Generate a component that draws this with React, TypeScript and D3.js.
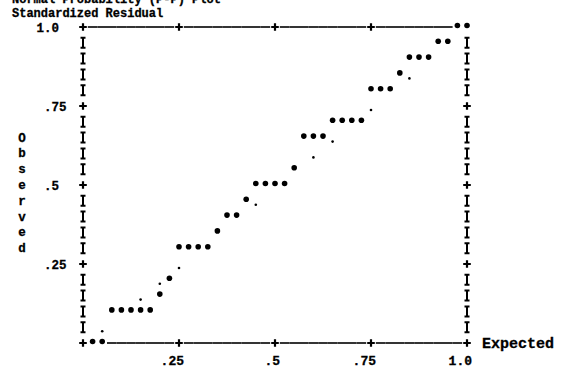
import React, { useEffect, useRef } from 'react';
import * as d3 from 'd3';

// expected cumulative probability (one case per print column)
const expected = [
  0.025, 0.05, 0.075, 0.1, 0.125, 0.15, 0.175, 0.2, 0.225, 0.25,
  0.275, 0.3, 0.325, 0.35, 0.375, 0.4, 0.425, 0.45, 0.475, 0.5,
  0.525, 0.55, 0.575, 0.6, 0.625, 0.65, 0.675, 0.7, 0.725, 0.75,
  0.775, 0.8, 0.825, 0.85, 0.875, 0.9, 0.925, 0.95, 0.975, 1.0,
];
// observed cumulative probability
const observed = [
  0, 0, 0.1, 0.1, 0.1, 0.1, 0.1, 0.15, 0.2, 0.3,
  0.3, 0.3, 0.3, 0.35, 0.4, 0.4, 0.45, 0.5, 0.5, 0.5,
  0.5, 0.55, 0.65, 0.65, 0.65, 0.7, 0.7, 0.7, 0.7, 0.8,
  0.8, 0.8, 0.85, 0.9, 0.9, 0.9, 0.95, 0.95, 1.0, 1.0,
];
const tickValues = [0.25, 0.5, 0.75, 1.0];
const yTickLabels = ['.25', '.5', '.75', '1.0'];
const xTickLabels = ['.25', '.5', '.75', '1.0'];
const yTitle = 'Observed';
const titleLines = ['Normal Probability (P-P) Plot', 'Standardized Residual'];

const COLS = 40; // print columns across the plot
const ROWS = 20; // print lines down the plot
const FONT = "'Liberation Mono', 'DejaVu Sans Mono', monospace";

export default function App() {
  const ref = useRef<SVGSVGElement>(null);

  useEffect(() => {
    const svg = d3.select(ref.current);
    svg.selectAll('*').remove();

    const x = d3.scaleLinear().domain([0, 1]).range([83, 467]);
    const y = d3.scaleLinear().domain([0, 1]).range([343, 27]);
    const col = d3.scaleLinear().domain([0, COLS]).range([0, 1]);
    const row = d3.scaleLinear().domain([0, ROWS]).range([1, 0]);

    const pts = expected.map((e, i) => ({ e, o: observed[i] }));
    const used = new Set(pts.map(p => Math.round(p.e * COLS) + ',' + Math.round((1 - p.o) * ROWS)));

    const g = svg.append('g').attr('fill', '#000');

    // frame: top / bottom rows of dashes and plusses, sides of I's
    const frame: { c: number; r: number; ch: string }[] = [];
    d3.range(0, COLS + 1).forEach(c => {
      [0, ROWS].forEach(r => frame.push({ c, r, ch: c % 10 === 0 ? '+' : '-' }));
    });
    d3.range(1, ROWS).forEach(r => {
      [0, COLS].forEach(c => frame.push({ c, r, ch: r % 5 === 0 ? '+' : 'I' }));
    });
    const frameG = g.append('g').attr('stroke', '#000').attr('fill', 'none');
    frame
      .filter(f => !used.has(f.c + ',' + f.r))
      .forEach(f => {
        const cx = x(col(f.c)), cy = y(row(f.r));
        let d = '';
        if (f.ch === '-') d = `M${cx - 4.8},${cy}H${cx + 4.8}`;
        if (f.ch === '+') d = `M${cx - 3.8},${cy}H${cx + 3.8}M${cx},${cy - 3.8}V${cy + 3.8}`;
        if (f.ch === 'I') d = `M${cx},${cy - 5}V${cy + 5}M${cx - 2.5},${cy - 5}H${cx + 2.5}M${cx - 2.5},${cy + 5}H${cx + 2.5}`;
        frameG.append('path').attr('d', d)
          .attr('stroke-width', f.ch === '-' ? 1.6 : f.ch === '+' ? 2.2 : 2);
      });

    // reference diagonal printed with '.' where no case sits
    const diag = d3.range(1, ROWS).map(r => ({ c: COLS - 2 * r, r }))
      .filter(d => !used.has(d.c + ',' + d.r));
    g.selectAll('.diag').data(diag).enter().append('circle')
      .attr('class', 'diag')
      .attr('cx', d => x(col(d.c)))
      .attr('cy', d => y(row(d.r)) + 4)
      .attr('r', 1.3);

    // cases
    g.selectAll('.pt').data(pts).enter().append('circle')
      .attr('class', 'pt')
      .attr('cx', d => x(d.e))
      .attr('cy', d => y(d.o) - 1.5)
      .attr('r', 2.8);

    const txt = g.append('g').attr('font-family', FONT).attr('font-weight', 'bold')
      .attr('stroke', '#000').attr('stroke-width', 0.3);

    titleLines.forEach((t, i) => {
      txt.append('text').attr('x', 12).attr('y', 3 + i * 14).attr('font-size', 12).text(t);
    });

    tickValues.forEach((v, i) => {
      const lab = yTickLabels[i];
      txt.append('text')
        .attr('x', 44 - lab.indexOf('.') * 7.5)
        .attr('y', y(v) + 4.5)
        .attr('font-size', 12.5)
        .text(lab);
      txt.append('text')
        .attr('x', x(v) + 5)
        .attr('y', 365)
        .attr('text-anchor', 'end')
        .attr('font-size', 13)
        .text(xTickLabels[i]);
    });

    yTitle.split('').forEach((ch, i) => {
      txt.append('text')
        .attr('x', 22)
        .attr('y', y(row(7 + i)) + 4)
        .attr('text-anchor', 'middle')
        .attr('font-size', 12.5)
        .text(ch);
    });

    txt.append('text').attr('x', 482).attr('y', 348).attr('font-size', 15).text('Expected');
  }, []);

  return (
    <svg ref={ref} width={561} height={369}
      style={{ position: 'absolute', left: 0, top: 0, background: '#fff' }} />
  );
}
